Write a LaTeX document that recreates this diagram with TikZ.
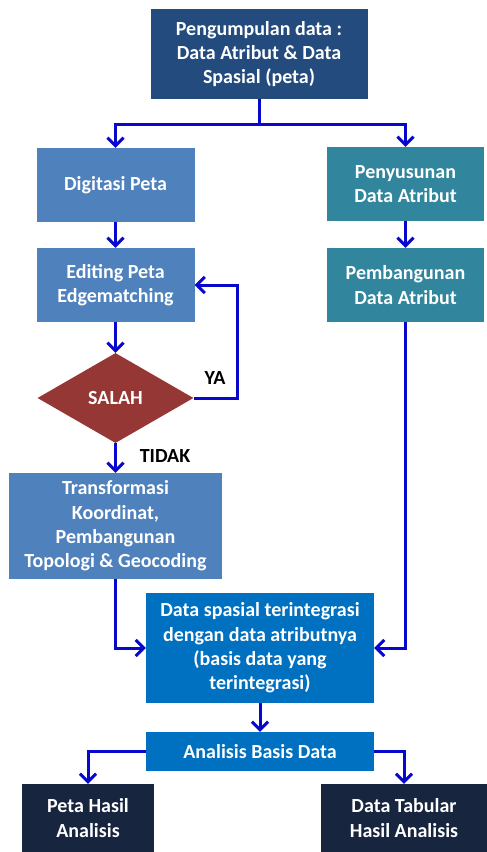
\documentclass[tikz,border=0pt]{standalone}
\usepackage{fontspec}
\setmainfont{Carlito}
\usetikzlibrary{arrows.meta,shapes.geometric}
\definecolor{navytop}{HTML}{234B7D}
\definecolor{steel}{HTML}{4F81BD}
\definecolor{teal}{HTML}{31859C}
\definecolor{brick}{HTML}{953735}
\definecolor{azure}{HTML}{0070C0}
\definecolor{ink}{HTML}{17253F}
\definecolor{wire}{RGB}{8,8,205}
\tikzset{
  box/.style={rectangle, inner sep=2pt, text=white, align=center,
    font=\fontsize{20}{24.3}\selectfont\bfseries},
  decision/.style={diamond, inner sep=0pt, text=white, fill=brick,
    font=\fontsize{20}{24}\selectfont\bfseries},
  link/.style={draw=wire, line width=3pt},
  arr/.style={link, -{Straight Barb[length=8pt,width=16pt]}},
  tag/.style={font=\fontsize{20}{22}\selectfont\bfseries, text=black}
}
\begin{document}
\begin{tikzpicture}[x=1pt,y=-1pt]
\useasboundingbox (0,0) rectangle (487,852);

% boxes
\node[box, fill=navytop, minimum width=217pt, minimum height=90pt] (top) at (259,54)
  {Pengumpulan data :\\Data Atribut \& Data\\Spasial (peta)};
\node[box, fill=steel, minimum width=158pt, minimum height=74pt] (digit) at (115.5,185)
  {Digitasi Peta};
\node[box, fill=steel, minimum width=158pt, minimum height=74pt] (edit) at (115.5,285)
  {Editing Peta\\Edgematching};
\node[decision, minimum width=156pt, minimum height=90pt] (dia) at (115.5,398) {SALAH};
\node[box, fill=steel, minimum width=213pt, minimum height=106pt] (trans) at (115.5,526)
  {Transformasi\\Koordinat,\\Pembangunan\\Topologi \& Geocoding};
\node[box, fill=teal, minimum width=157pt, minimum height=74pt] (penyus) at (405.5,184)
  {Penyusunan\\Data Atribut};
\node[box, fill=teal, minimum width=157pt, minimum height=74pt] (pemb) at (405.5,285)
  {Pembangunan\\Data Atribut};
\node[box, fill=azure, minimum width=228pt, minimum height=110pt] (integ) at (260,648)
  {Data spasial terintegrasi\\dengan data atributnya\\(basis data yang\\terintegrasi)};
\node[box, fill=azure, minimum width=228pt, minimum height=39pt] (anal) at (260,751.5)
  {Analisis Basis Data};
\node[box, fill=ink, minimum width=132pt, minimum height=68pt] (peta) at (88,818)
  {Peta Hasil\\Analisis};
\node[box, fill=ink, minimum width=166pt, minimum height=68pt] (tab) at (404,818)
  {Data Tabular\\Hasil Analisis};

% connectors
\coordinate (split) at (259,124);
\draw[link] (top.south) -- (split);
\draw[arr] (split) -| (digit.north);
\draw[arr] (split) -| (penyus.north);
\draw[arr] (digit) -- (edit);
\draw[arr] (edit) -- (dia.north);
\draw[arr] (dia.south) -- (trans.north);
\coordinate (loop) at (237,398);
\draw[arr] (dia.east) -- (loop) |- (edit.east);
\draw[arr] (penyus) -- (pemb);
\draw[arr] (trans.south) |- (integ.west);
\draw[arr] (pemb.south) |- (integ.east);
\draw[arr] (integ) -- (anal);
\draw[arr] (anal.west) -| (peta.north);
\draw[arr] (anal.east) -| (tab.north);

% branch labels
\node[tag] (ya) at (215,378) {YA};
\node[tag] (tidak) at (165,456) {TIDAK};
\end{tikzpicture}
\end{document}
